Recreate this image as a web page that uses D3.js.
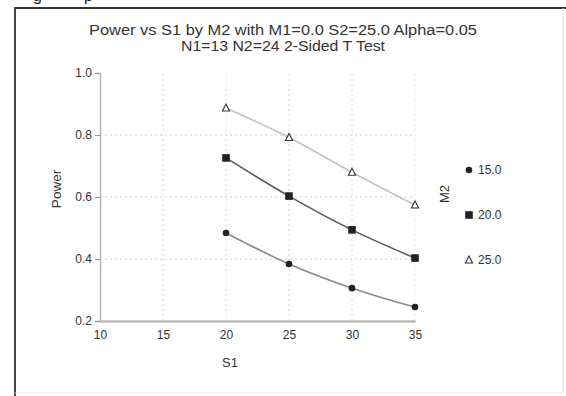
<!DOCTYPE html>
<html>
<head>
<meta charset="utf-8">
<script src="https://cdn.jsdelivr.net/npm/d3@7"></script>
<style>
  body { margin: 0; background: #fff; }
  svg { display: block; font-family: "Liberation Sans", Arial, sans-serif; }
</style>
</head>
<body>
<svg id="chart" width="566" height="396"></svg>
<script>
// Werte
const s1Values = [20, 25, 30, 35];
const m2Levels = ['15.0', '20.0', '25.0'];
const power15 = [0.484, 0.384, 0.306, 0.245];
const power20 = [0.726, 0.603, 0.494, 0.403];
const power25 = [0.887, 0.792, 0.680, 0.574];
const xTicks = [10, 15, 20, 25, 30, 35];
const yTicks = [0.2, 0.4, 0.6, 0.8, 1.0];
const titleLines = ['Power vs S1 by M2 with M1=0.0 S2=25.0 Alpha=0.05', 'N1=13 N2=24 2-Sided T Test'];
const titleWidths = [388, 204];

const series = [
  { name: m2Levels[0], values: power15, symbol: 'circle', line: '#8a8a8a' },
  { name: m2Levels[1], values: power20, symbol: 'square', line: '#5a5a5a' },
  { name: m2Levels[2], values: power25, symbol: 'triangle', line: '#c2c2c2' }
];

const svg = d3.select('#chart');

// Rahmen der gescannten Seite
svg.append('line').attr('x1', 15).attr('x2', 566).attr('y1', 8).attr('y2', 8)
  .attr('stroke', '#333').attr('stroke-width', 2);
svg.append('line').attr('x1', 15).attr('x2', 15).attr('y1', 7).attr('y2', 396)
  .attr('stroke', '#444').attr('stroke-width', 2);
svg.append('line').attr('x1', 563).attr('x2', 563).attr('y1', 8).attr('y2', 393)
  .attr('stroke', '#ddd').attr('stroke-width', 1);
svg.append('line').attr('x1', 15).attr('x2', 563).attr('y1', 393).attr('y2', 393)
  .attr('stroke', '#e2e2e2').attr('stroke-width', 1);

// Reste der Zeile darüber (im Original abgeschnitten)
svg.append('text').attr('x', 33).attr('y', 1).attr('font-size', 16).attr('fill', '#222').text('g');
svg.append('text').attr('x', 84).attr('y', 1).attr('font-size', 16).attr('fill', '#222').text('p');

// Titel (Scan ist horizontal leicht gestreckt)
svg.selectAll('text.title')
  .data(titleLines)
  .enter()
  .append('text')
  .attr('class', 'title')
  .attr('x', 283)
  .attr('y', (d, i) => 35 + i * 16)
  .attr('text-anchor', 'middle')
  .attr('font-size', 14)
  .attr('textLength', (d, i) => titleWidths[i])
  .attr('lengthAdjust', 'spacingAndGlyphs')
  .attr('fill', '#333')
  .text(d => d);

const x = d3.scaleLinear().domain([10, 35]).range([100, 415]);
const y = d3.scaleLinear().domain([0.2, 1.0]).range([321, 73]);

// Gitterlinien (gepunktet)
svg.append('g').selectAll('line')
  .data(yTicks.filter(t => t > 0.2 && t < 1.0))
  .enter().append('line')
  .attr('x1', x(10)).attr('x2', x(35))
  .attr('y1', d => y(d)).attr('y2', d => y(d))
  .attr('stroke', '#d2d2d2').attr('stroke-dasharray', '2,3');
svg.append('g').selectAll('line')
  .data(xTicks.filter(t => t > 10))
  .enter().append('line')
  .attr('x1', d => x(d)).attr('x2', d => x(d))
  .attr('y1', y(0.2)).attr('y2', y(1.0))
  .attr('stroke', d => d === 35 ? '#ececec' : '#dadada').attr('stroke-dasharray', '2,3');

// Achsen
const yAxis = svg.append('g')
  .attr('transform', `translate(${x(10)},0)`)
  .call(d3.axisLeft(y).tickValues(yTicks).tickFormat(d3.format('.1f')).tickSize(5).tickPadding(3));
const xAxis = svg.append('g')
  .attr('transform', `translate(0,${y(0.2)})`)
  .call(d3.axisBottom(x).tickValues(xTicks).tickSize(0).tickPadding(9));

[yAxis, xAxis].forEach(a => {
  a.select('.domain').attr('stroke', '#b5b5b5').attr('stroke-width', 1.5);
  a.selectAll('.tick line').attr('stroke', '#999');
  a.selectAll('.tick text').attr('font-size', 12).attr('fill', '#333')
    .attr('font-family', '"Liberation Sans", Arial, sans-serif');
});
xAxis.select('.domain').attr('stroke-width', 2.5).attr('stroke', '#bbb');

// Achsentitel
svg.append('text').attr('x', 230).attr('y', 367).attr('text-anchor', 'middle')
  .attr('font-size', 13).attr('fill', '#333').text('S1');
svg.append('text').attr('transform', 'translate(61,189) rotate(-90)').attr('text-anchor', 'middle')
  .attr('font-size', 13.5).attr('fill', '#333').text('Power');

// Linien
const lineGen = d3.line()
  .x((d, i) => x(s1Values[i]))
  .y(d => y(d))
  .curve(d3.curveMonotoneX);

svg.append('g').selectAll('path')
  .data(series)
  .enter().append('path')
  .attr('d', d => lineGen(d.values))
  .attr('fill', 'none')
  .attr('stroke', d => d.line)
  .attr('stroke-width', 1.6);

// Symbole
function drawSymbol(g, kind, cx, cy) {
  if (kind === 'circle') {
    g.append('circle').attr('cx', cx).attr('cy', cy).attr('r', 3.3).attr('fill', '#222');
  } else if (kind === 'square') {
    g.append('rect').attr('x', cx - 3.8).attr('y', cy - 3.8).attr('width', 7.6).attr('height', 7.6).attr('fill', '#222');
  } else {
    g.append('path')
      .attr('d', `M${cx},${cy - 4}L${cx + 3.6},${cy + 3}L${cx - 3.6},${cy + 3}Z`)
      .attr('fill', '#fff').attr('stroke', '#333').attr('stroke-width', 1.1);
  }
}

const marks = svg.append('g');
series.forEach(s => {
  s.values.forEach((v, i) => drawSymbol(marks, s.symbol, x(s1Values[i]), y(v)));
});

// Legende
svg.append('text').attr('transform', 'translate(449,194) rotate(-90)').attr('text-anchor', 'middle')
  .attr('font-size', 13).attr('fill', '#333').text('M2');
const legend = svg.append('g');
series.forEach((s, i) => {
  const ly = 170 + i * 45;
  drawSymbol(legend, s.symbol, 469, ly);
  legend.append('text').attr('x', 478).attr('y', ly + 4)
    .attr('font-size', 12).attr('fill', '#333').text(s.name);
});
</script>
</body>
</html>
